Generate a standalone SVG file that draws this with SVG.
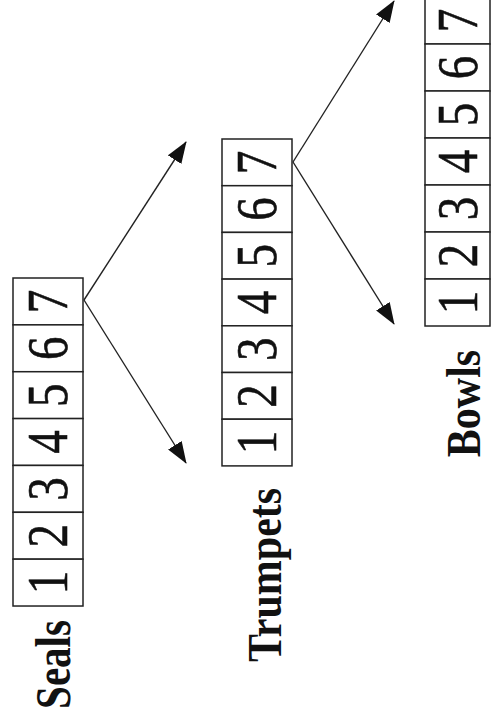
<svg xmlns="http://www.w3.org/2000/svg" width="491" height="725" viewBox="0 0 491 725">
<style>
.cell{fill:#fff;stroke:#222;stroke-width:1.5}
.dg{font-family:"Liberation Serif","Times New Roman",serif;font-size:47px;fill:#111;stroke:#111;stroke-width:0.5;text-anchor:middle}
.lb{font-family:"Liberation Serif","Times New Roman",serif;font-size:42px;font-weight:bold;fill:#111;text-anchor:middle}
.cn{stroke:#222;stroke-width:1.4;fill:none;marker-end:url(#ah)}
</style>
<defs>
<marker id="ah" markerUnits="userSpaceOnUse" markerWidth="22" markerHeight="16" viewBox="0 0 22 16" refX="21" refY="8" orient="auto">
<path d="M0,0 L22,8 L0,16 z" fill="#111"/>
</marker>
</defs>
<rect width="491" height="725" fill="#fff"/>
<g id="seals">
<rect class="cell" x="13" y="278" width="70" height="46.86"/>
<rect class="cell" x="13" y="324.86" width="70" height="46.86"/>
<rect class="cell" x="13" y="371.72" width="70" height="46.86"/>
<rect class="cell" x="13" y="418.58" width="70" height="46.86"/>
<rect class="cell" x="13" y="465.44" width="70" height="46.86"/>
<rect class="cell" x="13" y="512.3" width="70" height="46.86"/>
<rect class="cell" x="13" y="559.16" width="70" height="46.86"/>
<text class="dg" transform="translate(67,301.4) rotate(-90) scale(1,1.22)">7</text>
<text class="dg" transform="translate(67,348.3) rotate(-90) scale(1,1.22)">6</text>
<text class="dg" transform="translate(67,395.2) rotate(-90) scale(1,1.22)">5</text>
<text class="dg" transform="translate(67,442) rotate(-90) scale(1,1.22)">4</text>
<text class="dg" transform="translate(67,488.9) rotate(-90) scale(1,1.22)">3</text>
<text class="dg" transform="translate(67,535.7) rotate(-90) scale(1,1.22)">2</text>
<text class="dg" transform="translate(67,582.6) rotate(-90) scale(1,1.22)">1</text>
<text class="lb" transform="translate(70,664.5) rotate(-90) scale(1,1.25)" style="font-size:41px">Seals</text>
</g>
<g id="trumpets">
<rect class="cell" x="222" y="139" width="70" height="46.7"/>
<rect class="cell" x="222" y="185.7" width="70" height="46.7"/>
<rect class="cell" x="222" y="232.4" width="70" height="46.7"/>
<rect class="cell" x="222" y="279.1" width="70" height="46.7"/>
<rect class="cell" x="222" y="325.8" width="70" height="46.7"/>
<rect class="cell" x="222" y="372.5" width="70" height="46.7"/>
<rect class="cell" x="222" y="419.2" width="70" height="46.7"/>
<text class="dg" transform="translate(276,162.4) rotate(-90) scale(1,1.22)">7</text>
<text class="dg" transform="translate(276,209.1) rotate(-90) scale(1,1.22)">6</text>
<text class="dg" transform="translate(276,255.8) rotate(-90) scale(1,1.22)">5</text>
<text class="dg" transform="translate(276,302.5) rotate(-90) scale(1,1.22)">4</text>
<text class="dg" transform="translate(276,349.2) rotate(-90) scale(1,1.22)">3</text>
<text class="dg" transform="translate(276,395.9) rotate(-90) scale(1,1.22)">2</text>
<text class="dg" transform="translate(276,442.6) rotate(-90) scale(1,1.22)">1</text>
<text class="lb" transform="translate(281,575) rotate(-90) scale(1,1.18)">Trumpets</text>
</g>
<g id="bowls">
<rect class="cell" x="425" y="-3" width="65" height="47"/>
<rect class="cell" x="425" y="44" width="65" height="47"/>
<rect class="cell" x="425" y="91" width="65" height="47"/>
<rect class="cell" x="425" y="138" width="65" height="47"/>
<rect class="cell" x="425" y="185" width="65" height="47"/>
<rect class="cell" x="425" y="232" width="65" height="47"/>
<rect class="cell" x="425" y="279" width="65" height="47"/>
<text class="dg" transform="translate(477,20.5) rotate(-90) scale(1,1.22)">7</text>
<text class="dg" transform="translate(477,67.5) rotate(-90) scale(1,1.22)">6</text>
<text class="dg" transform="translate(477,114.5) rotate(-90) scale(1,1.22)">5</text>
<text class="dg" transform="translate(477,161.5) rotate(-90) scale(1,1.22)">4</text>
<text class="dg" transform="translate(477,208.5) rotate(-90) scale(1,1.22)">3</text>
<text class="dg" transform="translate(477,255.5) rotate(-90) scale(1,1.22)">2</text>
<text class="dg" transform="translate(477,302.5) rotate(-90) scale(1,1.22)">1</text>
<text class="lb" transform="translate(480,403.5) rotate(-90) scale(1,1.18)">Bowls</text>
</g>
<g id="connectors">
<line class="cn" x1="84" y1="300" x2="186" y2="142"/>
<line class="cn" x1="84" y1="300" x2="186" y2="463"/>
<line class="cn" x1="293" y1="162" x2="394" y2="1"/>
<line class="cn" x1="293" y1="162" x2="394" y2="324"/>
</g>
</svg>
